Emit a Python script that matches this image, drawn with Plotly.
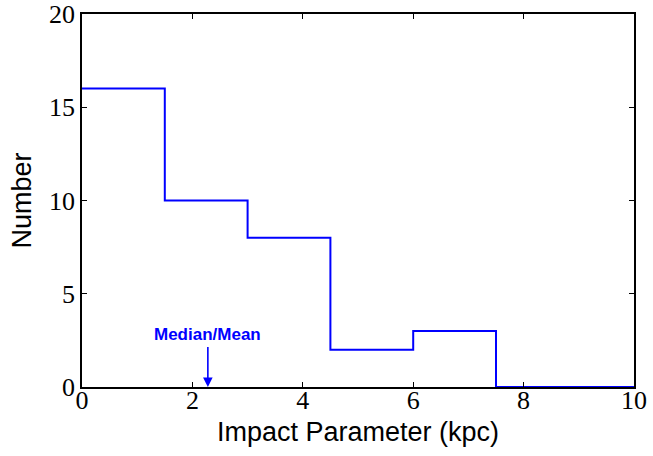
import plotly.graph_objects as go

bin_edges = [0, 1.5, 3, 4.5, 6, 7.5, 10]
counts = [16, 10, 8, 2, 3, 0]
x_ticks = [0, 2, 4, 6, 8, 10]
y_ticks = [0, 5, 10, 15, 20]
median_mean = 2.28

step_x = bin_edges
step_y = counts + [counts[-1]]

fig = go.Figure()
fig.add_trace(go.Scatter(x=step_x, y=step_y, mode="lines", line=dict(shape="hv", color="#0000ff", width=2),
                         showlegend=False, hoverinfo="skip"))

fig.add_annotation(x=median_mean, y=0, xref="x", yref="y", text="<b>Median/Mean</b>", showarrow=True,
                   ax=0, ay=-53, arrowhead=2, arrowsize=1.2, arrowwidth=1.6, arrowcolor="#0000ff",
                   font=dict(family="Liberation Sans", size=17, color="#0000ff"),
                   borderpad=0, standoff=0, startstandoff=3)

axis_common = dict(showline=True, linecolor="black", linewidth=1.5, mirror="ticks", ticks="inside",
                   ticklen=5, tickwidth=1, tickcolor="black", showgrid=False, zeroline=False, automargin=False,
                   tickfont=dict(family="Liberation Serif", size=26, color="black"))

fig.update_xaxes(range=[0, 10], tickvals=x_ticks, ticktext=[str(v) for v in x_ticks],
                 ticklabelstandoff=-11,
                 title=dict(text="Impact Parameter (kpc)", font=dict(family="Liberation Sans", size=27, color="black"), standoff=8),
                 **axis_common)
fig.update_yaxes(range=[0, 20], tickvals=y_ticks, ticktext=[str(v) for v in y_ticks],
                 title=dict(text="Number", font=dict(family="Liberation Sans", size=27, color="black"), standoff=10),
                 **axis_common)

fig.update_layout(width=653, height=456, margin=dict(l=82, r=19, t=14, b=69),
                  plot_bgcolor="white", paper_bgcolor="white")

fig.write_html("out.html")
